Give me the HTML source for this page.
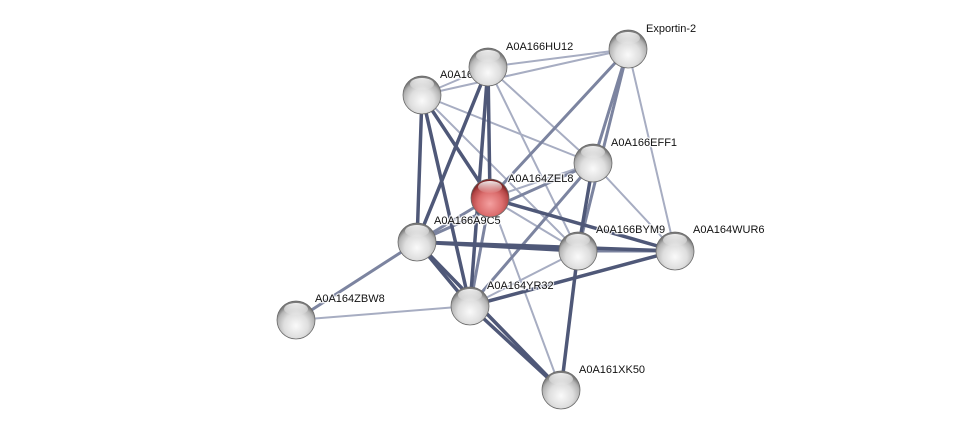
<!DOCTYPE html>
<html><head><meta charset="utf-8"><style>
html,body{margin:0;padding:0;background:#fff;}
svg{display:block;}
text{font-family:"Liberation Sans",sans-serif;font-size:11px;fill:#111;stroke:#fff;stroke-width:2.5px;stroke-opacity:0.8;paint-order:stroke;}
</style></head><body>
<svg width="976" height="436" viewBox="0 0 976 436" xmlns="http://www.w3.org/2000/svg">
<defs>
<radialGradient id="g" cx="50%" cy="65%" r="58%">
<stop offset="0" stop-color="#fafafa"/><stop offset="0.55" stop-color="#dedede"/><stop offset="0.85" stop-color="#b4b4b4"/><stop offset="1" stop-color="#7c7c7c"/></radialGradient>
<radialGradient id="r" cx="50%" cy="65%" r="58%">
<stop offset="0" stop-color="#f4a0a0"/><stop offset="0.55" stop-color="#dc6e6e"/><stop offset="0.85" stop-color="#b44646"/><stop offset="1" stop-color="#7e2626"/></radialGradient>
<linearGradient id="hl" x1="0" y1="0" x2="0" y2="1"><stop offset="0" stop-color="#fff" stop-opacity="0.9"/><stop offset="1" stop-color="#fff" stop-opacity="0.05"/></linearGradient>
</defs>
<g stroke-linecap="round">
<g stroke="#a7adc2" stroke-width="2">
<line x1="488" y1="67" x2="628" y2="49"/>
<line x1="422" y1="95" x2="628" y2="49"/>
<line x1="422" y1="95" x2="488" y2="67"/>
<line x1="628" y1="49" x2="675" y2="251"/>
<line x1="488" y1="67" x2="593" y2="163"/>
<line x1="488" y1="67" x2="578" y2="251"/>
<line x1="422" y1="95" x2="593" y2="163"/>
<line x1="422" y1="95" x2="578" y2="251"/>
<line x1="490" y1="198" x2="593" y2="163"/>
<line x1="490" y1="198" x2="561" y2="390"/>
<line x1="593" y1="163" x2="675" y2="251"/>
<line x1="296" y1="320" x2="470" y2="306"/>
<line x1="470" y1="306" x2="578" y2="251"/>
<line x1="490" y1="198" x2="578" y2="251"/>
</g>
<g stroke="#7c84a0" stroke-width="3">
<line x1="628" y1="49" x2="490" y2="198"/>
<line x1="628" y1="49" x2="593" y2="163"/>
<line x1="628" y1="49" x2="578" y2="251"/>
<line x1="417" y1="242" x2="296" y2="320"/>
<line x1="417" y1="242" x2="593" y2="163"/>
<line x1="470" y1="306" x2="593" y2="163"/>
<line x1="490" y1="198" x2="470" y2="306"/>
<line x1="578" y1="251" x2="675" y2="251"/>
<line x1="490" y1="198" x2="417" y2="242"/>
</g>
<g stroke="#4f5878" stroke-width="3.5">
<line x1="488" y1="67" x2="417" y2="242"/>
<line x1="488" y1="67" x2="490" y2="198"/>
<line x1="488" y1="67" x2="470" y2="306"/>
<line x1="422" y1="95" x2="417" y2="242"/>
<line x1="422" y1="95" x2="470" y2="306"/>
<line x1="422" y1="95" x2="490" y2="198"/>
<line x1="490" y1="198" x2="675" y2="251"/>
<line x1="417" y1="242" x2="578" y2="251"/>
<line x1="417" y1="242" x2="675" y2="251"/>
<line x1="417" y1="242" x2="470" y2="306"/>
<line x1="417" y1="242" x2="561" y2="390"/>
<line x1="470" y1="306" x2="675" y2="251"/>
<line x1="470" y1="306" x2="561" y2="390"/>
<line x1="578" y1="251" x2="593" y2="163"/>
<line x1="578" y1="251" x2="561" y2="390"/>
</g>
</g>
<g>
<text x="646" y="32">Exportin-2</text>
<text x="440" y="78">A0A166LZ20</text>
<text x="506" y="50">A0A166HU12</text>
<text x="611" y="146">A0A166EFF1</text>
<text x="508" y="182">A0A164ZEL8</text>
<text x="434" y="224">A0A166A9C5</text>
<text x="596" y="233">A0A166BYM9</text>
<text x="693" y="233">A0A164WUR6</text>
<text x="315" y="302">A0A164ZBW8</text>
<text x="487" y="289">A0A164YR32</text>
<text x="579" y="373">A0A161XK50</text>
</g>
<g stroke="#6a6a6a" stroke-width="0.8">
<circle cx="628" cy="49" r="19" fill="url(#g)"/>
<circle cx="422" cy="95" r="19" fill="url(#g)"/>
<circle cx="488" cy="67" r="19" fill="url(#g)"/>
<circle cx="593" cy="163" r="19" fill="url(#g)"/>
<circle cx="490" cy="198" r="19" fill="url(#r)"/>
<circle cx="417" cy="242" r="19" fill="url(#g)"/>
<circle cx="578" cy="251" r="19" fill="url(#g)"/>
<circle cx="675" cy="251" r="19" fill="url(#g)"/>
<circle cx="296" cy="320" r="19" fill="url(#g)"/>
<circle cx="470" cy="306" r="19" fill="url(#g)"/>
<circle cx="561" cy="390" r="19" fill="url(#g)"/>
</g>
<g fill="url(#hl)">
<ellipse cx="628" cy="38" rx="12" ry="6"/>
<ellipse cx="422" cy="84" rx="12" ry="6"/>
<ellipse cx="488" cy="56" rx="12" ry="6"/>
<ellipse cx="593" cy="152" rx="12" ry="6"/>
<ellipse cx="490" cy="187" rx="12" ry="6"/>
<ellipse cx="417" cy="231" rx="12" ry="6"/>
<ellipse cx="578" cy="240" rx="12" ry="6"/>
<ellipse cx="675" cy="240" rx="12" ry="6"/>
<ellipse cx="296" cy="309" rx="12" ry="6"/>
<ellipse cx="470" cy="295" rx="12" ry="6"/>
<ellipse cx="561" cy="379" rx="12" ry="6"/>
</g>
</svg>
</body></html>
